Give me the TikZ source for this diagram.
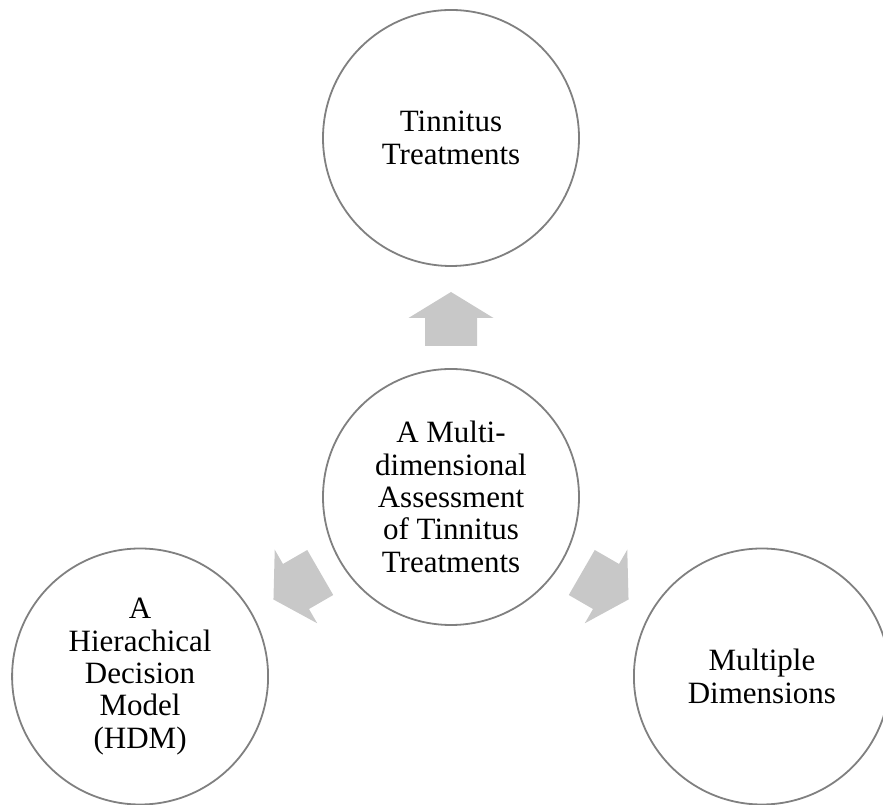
\documentclass[tikz,border=0pt]{standalone}
\usepackage{fontspec}
\setmainfont{Liberation Serif}
\usepackage{xcolor}
\usepackage{tikz}
\definecolor{ringgrey}{RGB}{128,128,128}
\definecolor{arrowgrey}{RGB}{200,200,200}

\begin{document}
\begin{tikzpicture}[x=1pt, y=1pt,
		bubble/.style={circle, draw=ringgrey, line width=1.8pt, fill=white,
			minimum size=256pt, inner sep=0pt, align=center,
			font=\fontsize{31}{32.4}\selectfont}]
			\useasboundingbox (0,0) rectangle (883,805);
			% coordinates
			\coordinate (centre) at (451,308);
			% circles
			\node[bubble] (hub) at (centre) {A Multi-\\dimensional\\Assessment\\of Tinnitus\\Treatments};
			\node[bubble] (treat) at ([shift={(90:359)}]centre) {Tinnitus\\Treatments};
			\node[bubble] (hdm) at ([shift={(210:359)}]centre) {A\\Hierachical\\Decision\\Model\\(HDM)};
			\node[bubble] (dims) at ([shift={(330:359)}]centre) {Multiple\\Dimensions};
			% block arrows
			\foreach \a in {90,210,330}{
				\fill[arrowgrey, shift={(hub.center)}, rotate=\a]
				(151,-26) -- (179,-26) -- (179,-42.5) -- (205,0)
				-- (179,42.5) -- (179,26) -- (151,26) -- cycle;
			}
		\end{tikzpicture}
\end{document}
